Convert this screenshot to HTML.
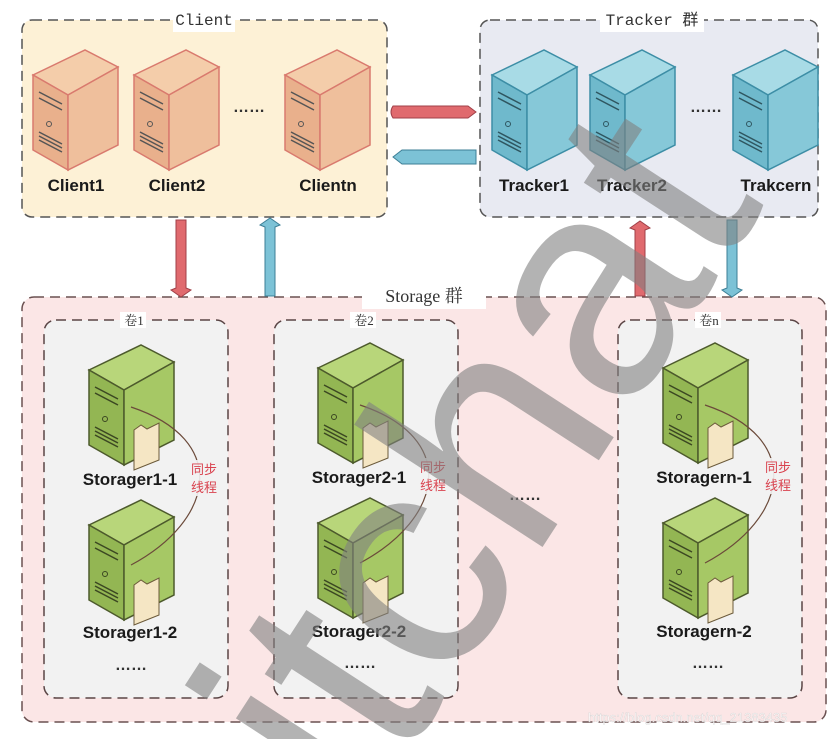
<!DOCTYPE html>
<html><head><meta charset="utf-8"><style>
html,body{margin:0;padding:0;background:#fff;overflow:hidden;width:838px;height:739px;}
svg{display:block;overflow:hidden;}
.lbl{font-family:"Liberation Sans",sans-serif;font-weight:bold;font-size:17px;fill:#1a1a1a;text-anchor:middle;}
.grp{font-family:"Liberation Mono","Noto Sans CJK SC",monospace;font-size:16px;fill:#333;text-anchor:middle;}
.vol{font-family:"Liberation Serif","Noto Serif CJK SC",serif;font-size:13px;fill:#333;text-anchor:middle;}
.sync{font-family:"Liberation Sans","Noto Sans CJK SC",sans-serif;font-size:13px;fill:#d9434f;}
.dots{font-family:"Liberation Sans",sans-serif;font-size:16px;fill:#333;text-anchor:middle;font-weight:bold;}
</style></head><body>
<svg width="838" height="739" viewBox="0 0 838 739" xmlns="http://www.w3.org/2000/svg">
<defs>
<clipPath id="frame"><rect x="0" y="0" width="838" height="739"/></clipPath>
<g id="srvC">
 <polygon points="0,25 52,0 85,17 35,45" fill="#f4cdaa" stroke="#d97a6e" stroke-width="1.5"/>
 <polygon points="0,25 35,45 35,120 0,100" fill="#e9b08c" stroke="#d97a6e" stroke-width="1.5"/>
 <polygon points="35,45 85,17 85,95 35,120" fill="#efbf9c" stroke="#d97a6e" stroke-width="1.5"/>
 <path d="M6,42 L29,54 M6,48 L29,60 M6,82 L29,94 M6,86 L29,98 M6,90 L29,102" stroke="#555" stroke-width="1.5"/>
 <circle cx="16" cy="74" r="2.5" fill="none" stroke="#555"/>
</g>
<g id="srvT">
 <polygon points="0,25 52,0 85,17 35,45" fill="#a8dbe6" stroke="#3d8ea6" stroke-width="1.5"/>
 <polygon points="0,25 35,45 35,120 0,100" fill="#6fb9cc" stroke="#3d8ea6" stroke-width="1.5"/>
 <polygon points="35,45 85,17 85,95 35,120" fill="#86c8d8" stroke="#3d8ea6" stroke-width="1.5"/>
 <path d="M6,42 L29,54 M6,48 L29,60 M6,82 L29,94 M6,86 L29,98 M6,90 L29,102" stroke="#2f5660" stroke-width="1.5"/>
 <circle cx="16" cy="74" r="2.5" fill="none" stroke="#2f5660"/>
</g>
<g id="srvS">
 <polygon points="0,25 52,0 85,17 35,45" fill="#b8d67a" stroke="#4d5a2c" stroke-width="1.5"/>
 <polygon points="0,25 35,45 35,120 0,100" fill="#93b653" stroke="#4d5a2c" stroke-width="1.5"/>
 <polygon points="35,45 85,17 85,95 35,120" fill="#a6c865" stroke="#4d5a2c" stroke-width="1.5"/>
 <path d="M6,42 L29,54 M6,48 L29,60 M6,82 L29,94 M6,86 L29,98 M6,90 L29,102" stroke="#3b4722" stroke-width="1.5"/>
 <circle cx="16" cy="74" r="2.5" fill="none" stroke="#3b4722"/>
 <polygon points="45,85 52,80 58,84 70,78 70,115 45,125" fill="#f5e6c4" stroke="#6b5a3a" stroke-width="1"/>
</g>
</defs>

<rect x="22" y="20" width="365" height="197" rx="10" fill="#fdf1d6" stroke="#555" stroke-width="1.5" stroke-dasharray="10,6"/>
<rect x="480" y="20" width="338" height="197" rx="10" fill="#e8eaf2" stroke="#555" stroke-width="1.5" stroke-dasharray="10,6"/>
<rect x="22" y="297" width="804" height="425" rx="12" fill="#fbe6e6" stroke="#6a5050" stroke-width="1.5" stroke-dasharray="10,6"/>
<rect x="44" y="320" width="184" height="378" rx="12" fill="#f2f2f2" stroke="#5a4545" stroke-width="1.5" stroke-dasharray="10,6"/>
<rect x="274" y="320" width="184" height="378" rx="12" fill="#f2f2f2" stroke="#5a4545" stroke-width="1.5" stroke-dasharray="10,6"/>
<rect x="618" y="320" width="184" height="378" rx="12" fill="#f2f2f2" stroke="#5a4545" stroke-width="1.5" stroke-dasharray="10,6"/>

<rect x="173" y="8" width="62" height="24" fill="#fff"/><text class="grp" x="204" y="25">Client</text>
<rect x="600" y="8" width="104" height="24" fill="#fff"/><text class="grp" x="652" y="25">Tracker 群</text>
<rect x="362" y="285" width="124" height="24" fill="#fff"/><text class="grp" x="424" y="302" style="font-family:'Liberation Serif','Noto Serif CJK SC',serif;font-size:18px">Storage 群</text>
<rect x="120" y="312" width="26" height="16" fill="#fff"/><text class="vol" x="134" y="325">卷1</text>
<rect x="350" y="312" width="26" height="16" fill="#fff"/><text class="vol" x="364" y="325">卷2</text>
<rect x="695" y="312" width="26" height="16" fill="#fff"/><text class="vol" x="709" y="325">卷n</text>

<use href="#srvC" x="33" y="50"/><use href="#srvC" x="134" y="50"/><use href="#srvC" x="285" y="50"/>
<text class="lbl" x="76" y="191">Client1</text><text class="lbl" x="177" y="191">Client2</text><text class="lbl" x="328" y="191">Clientn</text>
<text class="dots" x="249" y="112">……</text>
<use href="#srvT" x="492" y="50"/><use href="#srvT" x="590" y="50"/><use href="#srvT" x="733" y="50"/>
<text class="lbl" x="534" y="191">Tracker1</text><text class="lbl" x="632" y="191">Tracker2</text><text class="lbl" x="776" y="191">Trakcern</text>
<text class="dots" x="706" y="112">……</text>

<path d="M393,106 H468 L476,112 L468,118 H393 Q389,112 393,106 Z" fill="#e06a6e" stroke="#a04048" stroke-width="1"/>
<path d="M476,150 H402 L393,157 L402,164 H476 Z" fill="#7cc2d6" stroke="#3d7f96" stroke-width="1"/>
<path d="M176,220 H186 V288 L191,290 L181,297 L171,290 L176,288 Z" fill="#e06a6e" stroke="#a04048" stroke-width="1"/>
<path d="M265,296 H275 V227 L280,225 L270,218 L260,225 L265,227 Z" fill="#7cc2d6" stroke="#3d7f96" stroke-width="1"/>
<path d="M635,296 H645 V230 L650,228 L640,221 L630,228 L635,230 Z" fill="#e06a6e" stroke="#a04048" stroke-width="1"/>
<path d="M727,220 H737 V288 L742,290 L732,297 L722,290 L727,288 Z" fill="#7cc2d6" stroke="#3d7f96" stroke-width="1"/>

<g>
<use href="#srvS" x="89" y="345"/><use href="#srvS" x="89" y="500"/>
<path d="M131,407 C230,440 215,520 131,565" fill="none" stroke="#6b4a3a" stroke-width="1.2"/>
<text class="lbl" x="130" y="485">Storager1-1</text><text class="lbl" x="130" y="638">Storager1-2</text>
<text class="dots" x="131" y="670">……</text>
<rect x="189" y="460" width="30" height="36" fill="#f2f2f2" opacity="0.9"/>
<text class="sync" x="191" y="474">同步</text><text class="sync" x="191" y="492">线程</text>
</g>
<g>
<use href="#srvS" x="318" y="343"/><use href="#srvS" x="318" y="498"/>
<path d="M360,405 C459,438 444,518 360,563" fill="none" stroke="#6b4a3a" stroke-width="1.2"/>
<text class="lbl" x="359" y="483">Storager2-1</text><text class="lbl" x="359" y="637">Storager2-2</text>
<text class="dots" x="360" y="668">……</text>
<rect x="418" y="458" width="30" height="36" fill="#f2f2f2" opacity="0.9"/>
<text class="sync" x="420" y="472">同步</text><text class="sync" x="420" y="490">线程</text>
</g>
<g>
<use href="#srvS" x="663" y="343"/><use href="#srvS" x="663" y="498"/>
<path d="M705,405 C804,438 789,518 705,563" fill="none" stroke="#6b4a3a" stroke-width="1.2"/>
<text class="lbl" x="704" y="483">Storagern-1</text><text class="lbl" x="704" y="637">Storagern-2</text>
<text class="dots" x="708" y="668">……</text>
<rect x="763" y="458" width="30" height="36" fill="#f2f2f2" opacity="0.9"/>
<text class="sync" x="765" y="472">同步</text><text class="sync" x="765" y="490">线程</text>
</g>
<text class="dots" x="525" y="500">……</text>

<g clip-path="url(#frame)">
<text x="0" y="0" transform="translate(362,825) rotate(-57)" font-family="'Liberation Sans',sans-serif" font-size="310" fill="#808080" fill-opacity="0.6">itchat</text>
</g>
<text x="588" y="722" font-family="'Liberation Sans',sans-serif" font-size="13" fill="#ffffff" fill-opacity="0.8" stroke="#ccc" stroke-width="0.3">https://blog.csdn.net/qq_21383435</text>
</svg>
</body></html>
